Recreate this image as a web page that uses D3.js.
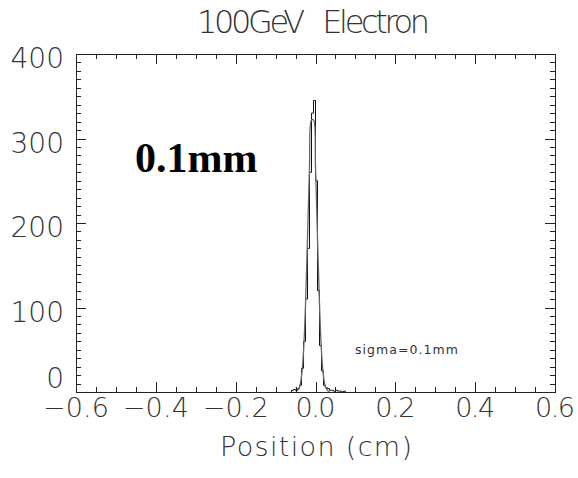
<!DOCTYPE html>
<html><head><meta charset="utf-8">
<script src="https://cdn.jsdelivr.net/npm/d3@7"></script>
<style>
html,body{margin:0;padding:0;background:#fff;}
text{font-family:"DejaVu Sans ExtraLight","DejaVu Sans",sans-serif;font-weight:200;fill:#333;white-space:pre;}
</style></head>
<body>
<script>
// ---- data ----
const title = "100GeV   Electron";
const xLabel = "Position (cm)";
const xTicks = [-0.6, -0.4, -0.2, 0.0, 0.2, 0.4, 0.6];
const xTickLabels = ["\u22120.6", "\u22120.4", "\u22120.2", "0.0", "0.2", "0.4", "0.6"];
const yTicks = [0, 100, 200, 300, 400];
const yTickLabels = ["0", "100", "200", "300", "400"];
const binWidth = 0.005;
const binStarts = [-0.060, -0.055, -0.050, -0.045, -0.040, -0.035, -0.030, -0.025, -0.020, -0.015,
                   -0.010, -0.005, 0.000, 0.005, 0.010, 0.015, 0.020, 0.025, 0.030, 0.035,
                   0.040, 0.045, 0.050, 0.055, 0.060, 0.065, 0.070];
const binCounts = [2, 3, 2, 4, 8, 28, 60, 110, 170, 260,
                   330, 345, 250, 120, 55, 25, 8, 5, 4, 2,
                   2, 1, 2, 1, 1, 0, 1];
const fitX = [-0.045, -0.040, -0.035, -0.030, -0.025, -0.020, -0.015, -0.010, -0.005, 0.000,
              0.005, 0.010, 0.015, 0.020, 0.025, 0.030, 0.035];
const fitY = [2, 6, 19, 48, 104, 183, 267, 322, 322, 267,
              183, 104, 48, 19, 6, 2, 0];
const bigLabel = "0.1mm";
const sigmaLabel = "sigma=0.1mm";

// ---- layout ----
const W = 578, H = 478;
const L = 76, R = 555, T = 54, B = 392;
const svg = d3.select("body").append("svg").attr("width", W).attr("height", H);
const x = d3.scaleLinear().domain([-0.6, 0.6]).range([L, R]);
const y = d3.scaleLinear().domain([0, 400]).range([B, T]);

const ink = "#222";
// frame
svg.append("rect").attr("x", L + 0.5).attr("y", T + 0.5).attr("width", R - L).attr("height", B - T)
  .attr("fill", "none").attr("stroke", ink).attr("stroke-width", 1);

// ticks
const xMinor = d3.range(-0.6, 0.6001, 0.05);
const yMinor = d3.range(0, 400.1, 10);
function isMajorX(v){ return Math.abs(v/0.2 - Math.round(v/0.2)) < 1e-6; }
function isMajorY(v){ return Math.abs(v/100 - Math.round(v/100)) < 1e-6; }
const tg = svg.append("g").attr("stroke", ink).attr("stroke-width", 1);
xMinor.forEach(v => {
  const len = isMajorX(v) ? 10 : 5;
  const px = Math.round(x(v)) + 0.5;
  tg.append("line").attr("x1", px).attr("x2", px).attr("y1", B).attr("y2", B - len);
  tg.append("line").attr("x1", px).attr("x2", px).attr("y1", T).attr("y2", T + len);
});
yMinor.forEach(v => {
  const len = isMajorY(v) ? 10 : 5;
  const py = Math.round(y(v)) + 0.5;
  tg.append("line").attr("x1", L).attr("x2", L + len).attr("y1", py).attr("y2", py);
  tg.append("line").attr("x1", R).attr("x2", R - len).attr("y1", py).attr("y2", py);
});

// tick labels
svg.selectAll(".xl").data(xTicks).enter().append("text")
  .attr("x", d => x(d)).attr("y", 417).attr("text-anchor", "middle")
  .attr("font-size", 27)
  .attr("textLength", d => d < 0 ? 66 : 40).attr("lengthAdjust", "spacing")
  .text((d, i) => xTickLabels[i]);
svg.selectAll(".yl").data(yTicks).enter().append("text")
  .attr("x", 64).attr("y", d => Math.min(y(d) + 14, B - 4)).attr("text-anchor", "end")
  .attr("font-size", 28)
  .text((d, i) => yTickLabels[i]);

// titles
svg.append("text").attr("x", 197).attr("y", 33)
  .attr("font-size", 32).attr("textLength", 233).attr("lengthAdjust", "spacing").text(title);
svg.append("text").attr("x", 220).attr("y", 456)
  .attr("font-size", 27).attr("textLength", 192).attr("lengthAdjust", "spacing").text(xLabel);

// histogram (step)
const stepPts = [];
binStarts.forEach((s, i) => {
  stepPts.push([s, binCounts[i]]);
  stepPts.push([s + binWidth, binCounts[i]]);
});
stepPts.unshift([binStarts[0], 0]);
stepPts.push([binStarts[binStarts.length - 1] + binWidth, 0]);
const line = d3.line().x(d => x(d[0])).y(d => y(d[1]));
svg.append("path").attr("d", line(stepPts)).attr("fill", "none")
  .attr("stroke", "#111").attr("stroke-width", 1);

// fit curve
const fitPts = fitX.map((v, i) => [v, fitY[i]]);
svg.append("path").attr("d", d3.line().x(d => x(d[0])).y(d => y(d[1])).curve(d3.curveCatmullRom)(fitPts))
  .attr("fill", "none").attr("stroke", "#666").attr("stroke-width", 1.3);

// annotations
svg.append("text").attr("x", 135).attr("y", 172)
  .style("font-family", "'Liberation Serif','Times New Roman',serif").style("font-weight", "bold")
  .style("fill", "#000").attr("font-size", 42).text(bigLabel);
svg.append("text").attr("x", 355).attr("y", 354).attr("font-size", 12.5)
  .style("font-family", "'DejaVu Sans',sans-serif").style("font-weight", 400).style("fill", "#333")
  .attr("textLength", 103).attr("lengthAdjust", "spacing").text(sigmaLabel);
</script>
</body></html>
